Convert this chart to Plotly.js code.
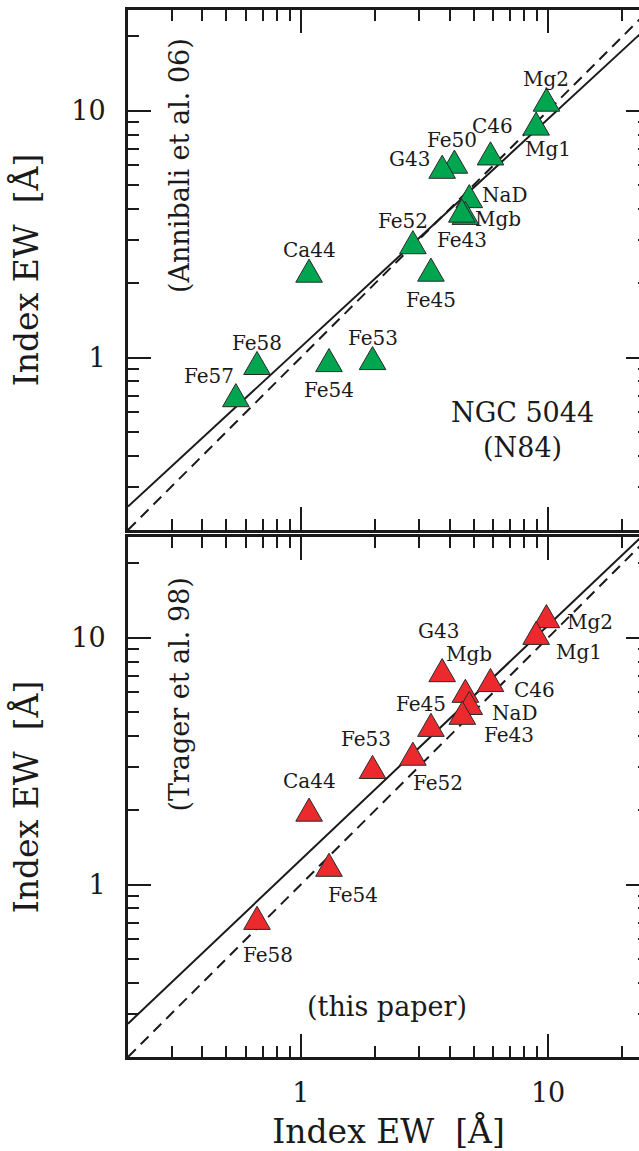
<!DOCTYPE html>
<html><head><meta charset="utf-8">
<script src="https://cdn.plot.ly/plotly-3.0.1.min.js"></script>
<style>html,body{margin:0;padding:0;overflow:hidden;background:#fff;} #chart{width:660px;height:1151px;}</style>
</head><body><div id="chart"></div>
<script>
// ---- data ----
const topIndices   = ['Mg2','Mg1','C46','Fe50','G43','NaD','Mgb','Fe43','Fe52','Fe45','Ca44','Fe58','Fe54','Fe53','Fe57'];
const topThisPaper = [9.85, 8.95, 5.85, 4.18, 3.73, 4.80, 4.63, 4.48, 2.84, 3.36, 1.08, 0.665, 1.30, 1.95, 0.546];
const topAnnibali  = [10.7, 8.56, 6.48, 6.00, 5.72, 4.35, 3.72, 3.80, 2.83, 2.19, 2.17, 0.917, 0.942, 0.96, 0.679];

const botIndices   = ['Mg2','Mg1','G43','C46','Mgb','NaD','Fe43','Fe45','Fe52','Fe53','Ca44','Fe54','Fe58'];
const botThisPaper = [9.85, 8.95, 3.73, 5.85, 4.63, 4.80, 4.50, 3.36, 2.84, 1.95, 1.08, 1.30, 0.665];
const botTrager    = [11.8, 10.1, 7.13, 6.50, 5.88, 5.25, 4.79, 4.28, 3.27, 2.89, 1.94, 1.16, 0.707];

// line end points (x at both axis ends)
const lineEndsX  = [0.2, 25.6];
const oneToOneY  = [0.2, 25.6];
const fitTopY    = [0.249, 22.1];
const fitBotY    = [0.273, 27.4];

const axisRange     = [0.2, 25.6];
const majorTicks    = [1, 10];
const majorTickText = ['1', '10'];
const minorTicks    = [0.2,0.3,0.4,0.5,0.6,0.7,0.8,0.9,2,3,4,5,6,7,8,9,20];

// ---- label placement (pixel offsets from each point: right, down) ----
const topLabelOffsets = {
  Mg2:[0,-24], Mg1:[12,22], C46:[2,-31], Fe50:[-2,-25], G43:[-33,-12], NaD:[35,-5],
  Mgb:[33,2], Fe43:[0,26], Fe52:[-10,-25], Fe45:[0,26], Ca44:[0,-24], Fe58:[0,-24],
  Fe54:[0,26], Fe53:[0,-24], Fe57:[-27,-23]
};
const botLabelOffsets = {
  Mg2:[44,2], Mg1:[43,15], G43:[-4,-43], C46:[44,6], Mgb:[4,-41], NaD:[45,6],
  Fe43:[47,18], Fe45:[-10,-25], Fe52:[25,25], Fe53:[-7,-32], Ca44:[0,-32],
  Fe54:[24,26], Fe58:[11,33]
};

const FONT = 'DejaVu Serif, Liberation Serif, serif';
const INK = '#1a1a1a';
const GREEN = '#00a54f';
const RED = '#ec2a2e';
const TRI = 'M-13.3,-7.7 L13.3,-7.7 L0,15.4 Z';

const L = Math.log10;
const logRange = [L(axisRange[0]), L(axisRange[1])];

function lineTrace(x, y, dash, xa, ya) {
  return {x: x, y: y, mode: 'lines', type: 'scatter', xaxis: xa, yaxis: ya,
    line: {color: INK, width: 2, dash: dash}, hoverinfo: 'skip', showlegend: false};
}

const traces = [
  lineTrace(lineEndsX, oneToOneY, '11px,7px', 'x2', 'y2'),
  lineTrace(lineEndsX, fitTopY, 'solid', 'x2', 'y2'),
  lineTrace(lineEndsX, oneToOneY, '11px,7px', 'x', 'y'),
  lineTrace(lineEndsX, fitBotY, 'solid', 'x', 'y'),
  // invisible hover carriers for the points
  {x: topThisPaper, y: topAnnibali, text: topIndices, mode: 'markers', type: 'scatter',
   xaxis: 'x2', yaxis: 'y2', marker: {size: 20, opacity: 0}, showlegend: false, hoverinfo: 'text+x+y'},
  {x: botThisPaper, y: botTrager, text: botIndices, mode: 'markers', type: 'scatter',
   xaxis: 'x', yaxis: 'y', marker: {size: 20, opacity: 0}, showlegend: false, hoverinfo: 'text+x+y'}
];

const shapes = [];
const annotations = [];
function addPoints(names, xs, ys, offsets, color, xa, ya) {
  names.forEach((n, i) => {
    shapes.push({type: 'path', xref: xa, yref: ya, xsizemode: 'pixel', ysizemode: 'pixel',
      xanchor: xs[i], yanchor: ys[i], path: TRI, fillcolor: color,
      line: {color: '#2a2a2a', width: 1}, layer: 'above'});
    const o = offsets[n] || [0, -24];
    annotations.push({x: L(xs[i]), y: L(ys[i]), xref: xa, yref: ya, text: n, showarrow: false,
      xanchor: 'center', yanchor: 'middle',
      xshift: o[0], yshift: -o[1], font: {family: FONT, size: 20, color: INK}});
  });
}
addPoints(topIndices, topThisPaper, topAnnibali, topLabelOffsets, GREEN, 'x2', 'y2');
addPoints(botIndices, botThisPaper, botTrager, botLabelOffsets, RED, 'x', 'y');

function note(xref, yref, x, y, text, size, angle) {
  return {xref: xref, yref: yref, x: x, y: y, text: text, textangle: angle || 0,
    xanchor: 'center', yanchor: 'middle', showarrow: false,
    font: {family: FONT, size: size, color: INK}};
}
annotations.push(
  note('x2 domain', 'y2 domain', 0.098, 0.700, '(Annibali et al. 06)', 27, -90),
  note('x2 domain', 'y2 domain', 0.758, 0.192, 'NGC 5044<br>(N84)', 27),
  note('x domain', 'y domain', 0.098, 0.697, '(Trager et al. 98)', 27, -90),
  note('x domain', 'y domain', 0.497, 0.098, '(this paper)', 27)
);

function logAxis(extra) {
  return Object.assign({
    type: 'log', range: logRange, autorange: false,
    tickmode: 'array', tickvals: majorTicks, ticktext: majorTickText,
    ticks: 'inside', ticklen: 23, tickwidth: 2, tickcolor: INK,
    minor: {tickmode: 'array', tickvals: minorTicks, ticks: 'inside', ticklen: 11, tickwidth: 2, tickcolor: INK, showgrid: false},
    showline: true, linewidth: 3, linecolor: INK, mirror: 'allticks',
    showgrid: false, zeroline: false,
    tickfont: {family: FONT, size: 27, color: INK}
  }, extra);
}

const TITLE = 'Index EW\u00a0\u00a0[Å]';
const layout = {
  width: 660, height: 1151,
  margin: {l: 128, r: 11, t: 10, b: 94},
  paper_bgcolor: '#fff', plot_bgcolor: '#fff',
  showlegend: false,
  xaxis: logAxis({domain: [0, 1], anchor: 'y', ticklabelstandoff: 10,
    title: {text: TITLE, font: {family: FONT, size: 33, color: INK}, standoff: 16}}),
  yaxis: logAxis({domain: [0, 0.49666], anchor: 'x', ticklabelstandoff: 14,
    title: {text: TITLE, font: {family: FONT, size: 33, color: INK}, standoff: 23}}),
  xaxis2: logAxis({domain: [0, 1], anchor: 'y2', showticklabels: false}),
  yaxis2: logAxis({domain: [0.50334, 1], anchor: 'x2', ticklabelstandoff: 14,
    title: {text: TITLE, font: {family: FONT, size: 33, color: INK}, standoff: 23}}),
  shapes: shapes,
  annotations: annotations
};

Plotly.newPlot('chart', traces, layout, {displayModeBar: false, staticPlot: true});
</script>
</body></html>
